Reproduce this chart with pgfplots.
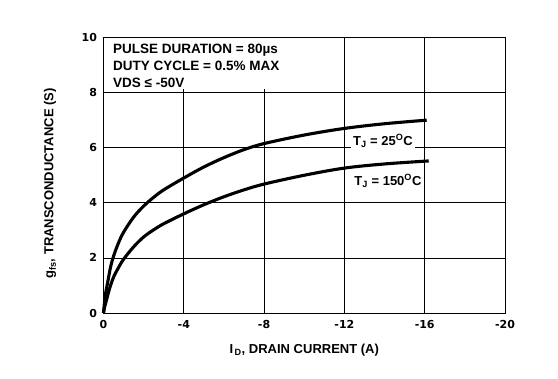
\documentclass[border=0pt]{standalone}
\usepackage{pgfplots}
\pgfplotsset{compat=1.18}
\usepackage{fontspec}
\setmainfont{Liberation Sans}
\newfontfamily\tickfont{DejaVu Sans}
\begin{document}
\begin{tikzpicture}
\begin{axis}[
  scale only axis, width=401.5pt, height=275.5pt,
  xmin=-20, xmax=0, ymin=0, ymax=10, x dir=reverse,
  xtick={0,-4,-8,-12,-16,-20}, xticklabels={0,-4,-8,-12,-16,-20},
  ytick={0,2,4,6,8,10}, yticklabels={0,2,4,6,8,10},
  grid=major, grid style={black, line width=0.8pt},
  axis line style={line width=0.8pt},
  major tick length=0pt,
  ticklabel style={font=\tickfont\bfseries\fontsize{11}{13}\selectfont},
  xticklabel style={yshift=-3.5pt},
  yticklabel style={xshift=-3pt},
  xlabel={I\textsubscript{\,D}, DRAIN CURRENT (A)},
  ylabel={g\textsubscript{fs}, TRANSCONDUCTANCE (S)},
  label style={font=\bfseries\fontsize{13}{15}\selectfont},
  xlabel style={at={(axis description cs:0.5,-0.134)}, anchor=center},
  ylabel style={at={(axis description cs:-0.133,0.47)}, anchor=center},
  clip=false,
]
\fill[white] (axis cs:-0.04,9.97) rectangle (axis cs:-9.5,8.12);
\node[anchor=north west, align=left, inner sep=0pt,
      font=\bfseries\fontsize{13.5}{17}\selectfont]
  at (axis cs:-0.47,9.78) {PULSE DURATION = 80µs\\DUTY CYCLE = 0.5\% MAX\\VDS ≤ -50V};
\addplot[black, line width=3.1pt, smooth, tension=0.55] coordinates {
  (0,0) (-0.05,0.38) (-0.1,0.69) (-0.2,1.08) (-0.35,1.66) (-0.5,2.06) (-0.75,2.55)
  (-1,2.93) (-1.5,3.48) (-2,3.88) (-2.5,4.2) (-3,4.47) (-4,4.9) (-5,5.3)
  (-6,5.64) (-7,5.93) (-8,6.15) (-10,6.46) (-12,6.70) (-14,6.87) (-16.1,7.0)
};
\addplot[black, line width=3.1pt, smooth, tension=0.55] coordinates {
  (0,0) (-0.05,0.2) (-0.15,0.47) (-0.3,0.88) (-0.5,1.3) (-0.75,1.65) (-1,1.95)
  (-1.5,2.4) (-2,2.76) (-2.5,3.02) (-3,3.24) (-4,3.6) (-5,3.93) (-6,4.22) (-7,4.47)
  (-8,4.68) (-10,5.0) (-12,5.26) (-14,5.41) (-16.2,5.52)
};
\node[fill=white, inner sep=2pt, font=\bfseries\fontsize{13}{15}\selectfont]
  at (axis cs:-13.92,6.24) {T\textsubscript{J} = 25\textsuperscript{O}C};
\node[fill=white, inner sep=2pt, font=\bfseries\fontsize{13}{15}\selectfont]
  at (axis cs:-14.17,4.79) {T\textsubscript{J} = 150\textsuperscript{O}C};
\draw[line width=0.8pt] (rel axis cs:0,0) rectangle (rel axis cs:1,1);
\end{axis}
\path (current axis.south west) ++(-103.5pt,-65pt) coordinate (bbA);
\path (current axis.north east) ++(53pt,37.5pt) coordinate (bbB);
\path (bbA) rectangle (bbB);
\end{tikzpicture}
\end{document}
